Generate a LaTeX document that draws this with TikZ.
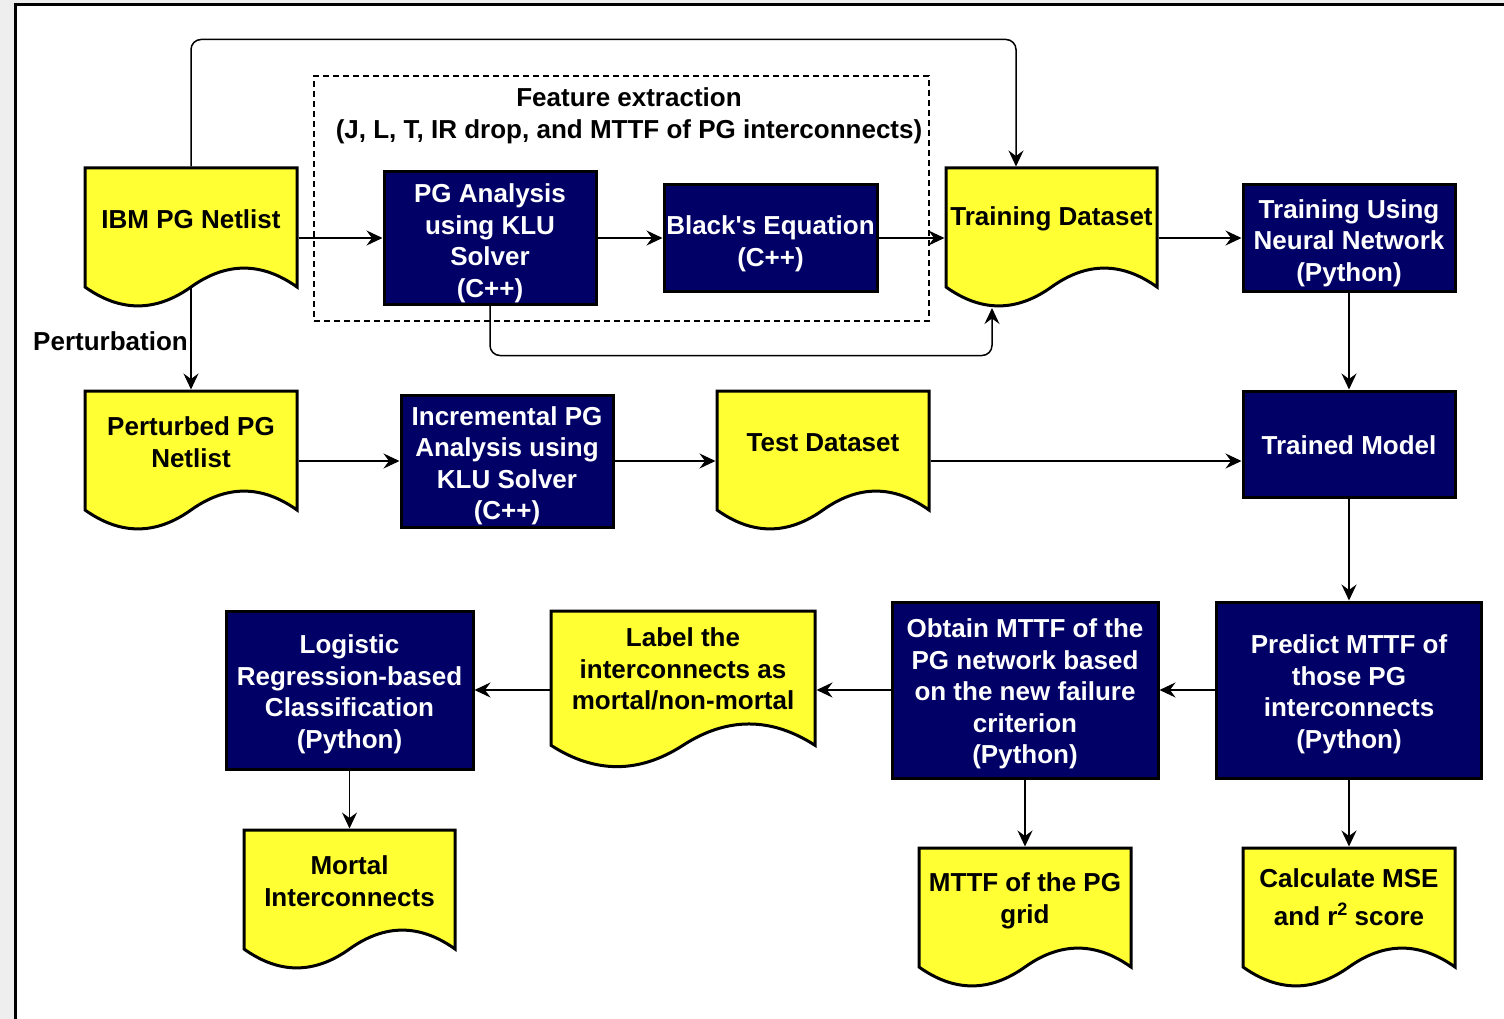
\documentclass[tikz,border=0pt]{standalone}
\usepackage{fontspec}
\setmainfont{Liberation Sans}
\usetikzlibrary{arrows.meta}
\definecolor{navy}{RGB}{0,0,102}
\definecolor{docyellow}{RGB}{255,255,51}
\definecolor{bggray}{RGB}{238,238,238}
\pgfdeclarelayer{back}
\pgfdeclarelayer{bg}
\pgfsetlayers{back,bg,main}
\tikzset{
  lbl/.style={font=\fontsize{26}{31.5}\selectfont\bfseries},
  conn/.style={line width=1.5pt, -{Stealth[length=16pt,width=15pt,inset=5.5pt]}},
  procbox/.style={draw=black, line width=3pt, fill=navy, inner sep=0pt},
  proctext/.style={lbl, text=white, align=center, inner sep=0pt},
  docframe/.style={draw=black, line width=3pt, fill=docyellow, line join=miter},
  docbody/.style={draw=none, fill=none, inner sep=0pt, outer sep=1.5pt},
  doctext/.style={lbl, text=black, align=center, inner sep=0pt},
  groupbox/.style={draw=black, line width=1.5pt, dash pattern=on 6pt off 4pt, inner sep=0pt},
}
% name, left x, top y, width, height, text offset, text
\newcommand{\docnode}[7]{%
  \path[docframe] (#2,#3) -- ({#2+#4},#3) -- ({#2+#4},{#3+0.85*#5})
    .. controls ({#2+5*#4/6},{#3+0.67*#5}) and ({#2+2*#4/3},{#3+0.67*#5}) .. ({#2+#4/2},{#3+0.85*#5})
    .. controls ({#2+#4/3},{#3+1.03*#5}) and ({#2+#4/6},{#3+1.03*#5}) .. (#2,{#3+0.85*#5}) -- cycle;
  \node[docbody, minimum width=#4pt, minimum height=#5pt] (#1) at ({#2+#4/2},{#3+#5/2}) {};
  \node[doctext] (#1-t) at ({#2+#4/2},{#3+0.35*#5+#6}) {#7};
}
% name, centre x, centre y, width, height, text offset, text
\newcommand{\procnode}[7]{%
  \node[procbox, minimum width=#4pt, minimum height=#5pt] (#1) at (#2,#3) {};
  \node[proctext] (#1-t) at (#2,{#3+#6}) {#7};
}
\begin{document}
\begin{tikzpicture}[x=1pt,y=-1pt]
\useasboundingbox (0,0) rectangle (1504,1019);
\begin{pgfonlayer}{back}
\fill[bggray] (0,0) rectangle (1504,1019);
\draw[line width=3pt, fill=white] (15,5) rectangle (1540,1060);
\end{pgfonlayer}

% group box
\node[groupbox, minimum width=615pt, minimum height=245pt] (febox) at (621.5,198.5) {};
\node[lbl, align=center, inner sep=0pt] (fetitle) at (629,116) {Feature extraction\\(J, L, T, IR drop, and MTTF of PG interconnects)};

% documents
\docnode{ibm}{85}{168}{212}{140}{2}{IBM PG Netlist}
\docnode{td}{946}{168}{211}{140}{2}{Training Dataset}
\docnode{pert}{85}{391}{212}{140}{2}{Perturbed PG\\Netlist}
\docnode{test}{717}{391}{212}{140}{3}{Test Dataset}
\docnode{lab}{551}{611}{264}{158}{3}{Label the\\interconnects as\\mortal/non-mortal}
\docnode{mortal}{244}{830}{211}{140}{2}{Mortal\\Interconnects}
\docnode{grid}{919}{848}{212}{140}{4}{MTTF of the PG\\grid}
\docnode{calc}{1243}{848}{212}{140}{0}{Calculate MSE\\[7pt]and r\raisebox{10pt}{\fontsize{18}{18}\selectfont 2} score}

% process boxes
\procnode{pga}{490}{238}{212}{132}{5.5}{PG Analysis\\using KLU\\Solver\\(C++)}
\procnode{black}{770.5}{238}{213}{106}{6}{Black\textquotesingle s Equation\\(C++)}
\procnode{nn}{1349}{238}{212}{106}{5}{Training Using\\Neural Network\\(Python)}
\procnode{inc}{507}{461}{212}{132}{5}{Incremental PG\\Analysis using\\KLU Solver\\(C++)}
\procnode{tm}{1349}{444}{212}{106}{1}{Trained Model}
\procnode{pred}{1349}{690}{265}{176}{4.5}{Predict MTTF of\\those PG\\interconnects\\(Python)}
\procnode{obt}{1025}{690}{266}{176}{4}{Obtain MTTF of the\\PG network based\\on the new failure\\criterion\\(Python)}
\procnode{logr}{349.5}{690}{247}{158}{4.5}{Logistic\\Regression-based\\Classification\\(Python)}

\node[lbl, anchor=east, inner sep=0pt] (pertlbl) at (188,341) {Perturbation};

\coordinate (tdtop) at (1016,166.5);
\coordinate (tdbot) at (992,308);

\begin{pgfonlayer}{bg}
\draw[conn] (ibm.center) -- (pert.north);
\end{pgfonlayer}
\draw[conn, rounded corners=10pt] (ibm.north) -- ++(0,-127) -| (tdtop);
\draw[conn] (ibm.east) -- (pga.west);
\draw[conn] (pga.east) -- (black.west);
\draw[conn] (black.east) -- (td.west);
\draw[conn, rounded corners=10pt] (pga.south) -- ++(0,50) -| (tdbot);
\draw[conn] (td.east) -- (nn.west);
\draw[conn] (nn.south) -- (tm.north);
\draw[conn] (pert.east) -- (inc.west);
\draw[conn] (inc.east) -- (test.west);
\draw[conn] (test.east) -- (test.east -| tm.west);
\draw[conn] (tm.south) -- (pred.north);
\draw[conn] (pred.west) -- (obt.east);
\draw[conn] (obt.west) -- (lab.east);
\draw[conn] (lab.west) -- (logr.east);
\draw[conn] (logr.south) -- (mortal.north);
\draw[conn] (obt.south) -- (grid.north);
\draw[conn] (pred.south) -- (calc.north);
\end{tikzpicture}
\end{document}
